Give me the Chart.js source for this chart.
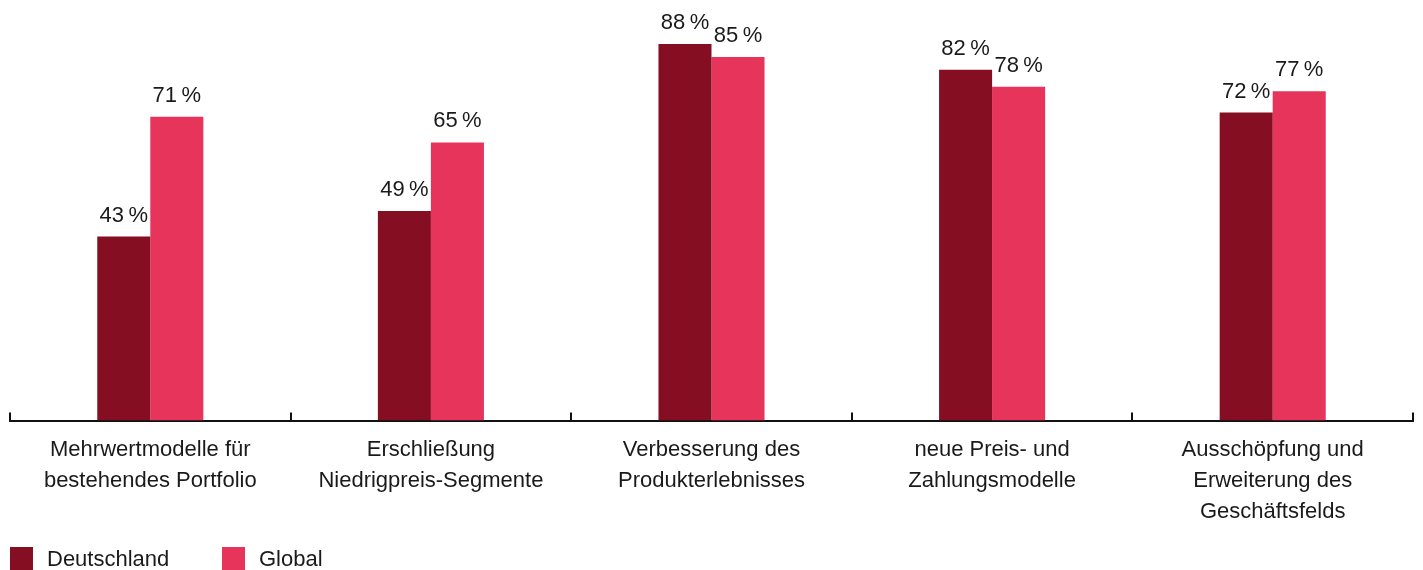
<!DOCTYPE html>
<html><head><meta charset="utf-8">
<script src="https://cdn.jsdelivr.net/npm/chart.js@4/dist/chart.umd.min.js"></script>
<style>
html,body{margin:0;padding:0;background:#fff;}
#wrap{position:relative;width:1423px;height:570px;overflow:hidden;}
#c{position:absolute;left:0;top:0;}
#legend{position:absolute;left:10px;top:547px;height:23px;font:22px "Liberation Sans",Arial,sans-serif;color:#1a1a1a;}
.item{position:absolute;top:0;display:flex;align-items:center;height:23px;white-space:nowrap;}
.box{width:23px;height:23px;margin-right:14px;flex:none;}
</style></head><body>
<div id="wrap"><canvas id="c" width="1423" height="570"></canvas><div id="legend"></div></div>
<script>
const categories = [
  ["Mehrwertmodelle für","bestehendes Portfolio"],
  ["Erschließung","Niedrigpreis-Segmente"],
  ["Verbesserung des","Produkterlebnisses"],
  ["neue Preis- und","Zahlungsmodelle"],
  ["Ausschöpfung und","Erweiterung des","Geschäftsfelds"]
];
const deutschland = [43, 49, 88, 82, 72];
const global = [71, 65, 85, 78, 77];
const seriesNames = ["Deutschland", "Global"];
const colors = ["#850E22", "#E6345B"];
const FONT = '"Liberation Sans", Arial, sans-serif';

const valueLabels = {
  id: 'valueLabels',
  afterDatasetsDraw(chart) {
    const ctx = chart.ctx;
    ctx.save();
    ctx.font = '22px ' + FONT;
    ctx.fillStyle = '#1a1a1a';
    ctx.textAlign = 'center';
    ctx.textBaseline = 'alphabetic';
    chart.data.datasets.forEach((ds, di) => {
      const meta = chart.getDatasetMeta(di);
      meta.data.forEach((bar, i) => {
        ctx.fillText(ds.data[i] + '\u2009%', bar.x, bar.y - 15);
      });
    });
    ctx.restore();
  }
};

const htmlLegend = {
  id: 'htmlLegend',
  afterUpdate(chart) {
    const el = document.getElementById('legend');
    el.innerHTML = '';
    const items = chart.options.plugins.legend.labels.generateLabels(chart);
    const lefts = [0, 212];
    items.forEach((it, i) => {
      const d = document.createElement('div');
      d.className = 'item';
      d.style.left = lefts[i] + 'px';
      const b = document.createElement('span');
      b.className = 'box';
      b.style.background = it.fillStyle;
      const t = document.createElement('span');
      t.textContent = it.text;
      d.appendChild(b); d.appendChild(t);
      el.appendChild(d);
    });
  }
};

new Chart(document.getElementById('c'), {
  type: 'bar',
  data: {
    labels: categories,
    datasets: [
      { label: seriesNames[0], data: deutschland, backgroundColor: colors[0] },
      { label: seriesNames[1], data: global, backgroundColor: colors[1] }
    ]
  },
  options: {
    responsive: false,
    animation: false,
    devicePixelRatio: 1,
    categoryPercentage: 0.378,
    barPercentage: 1.0,
    layout: { padding: { left: 10, right: 10, top: 0, bottom: 21 } },
    plugins: { legend: { display: false }, tooltip: { enabled: false } },
    scales: {
      y: { display: false, min: 0, max: 98.3 },
      x: {
        offset: true,
        border: { display: true, color: '#111', width: 2 },
        grid: { offset: true, drawOnChartArea: false, drawTicks: true, tickLength: -8, color: '#111', lineWidth: 2 },
        ticks: { color: '#1a1a1a', font: { family: FONT, size: 22, lineHeight: 1.4 }, padding: 22, maxRotation: 0, autoSkip: false }
      }
    }
  },
  plugins: [valueLabels, htmlLegend]
});
</script></body></html>
